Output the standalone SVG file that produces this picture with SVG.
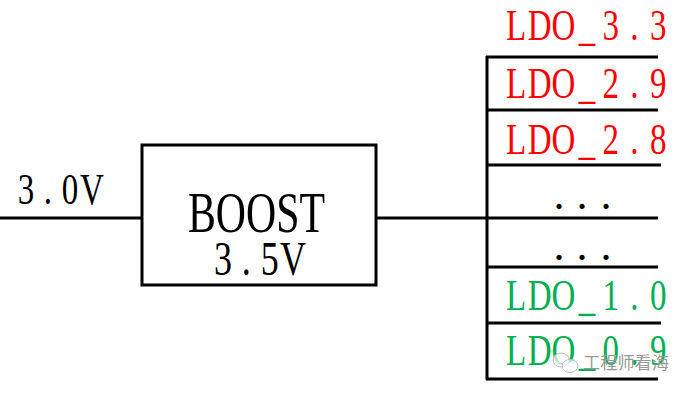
<svg xmlns="http://www.w3.org/2000/svg" width="692" height="393" viewBox="0 0 692 393">
<style>
.w{stroke:#000;stroke-width:3;fill:none}
.t{font-family:"Liberation Serif","Times New Roman",serif;text-anchor:middle}
.red{fill:#FF0000}
.grn{fill:#00B050}
.blk{fill:#000}
.wm{font-family:"Noto Sans CJK SC","Noto Sans",sans-serif;font-size:17px;fill:#9a9a9a}
</style>
<rect width="692" height="393" fill="#fff"/>
<g id="connectors">
<line class="w" x1="0" y1="218" x2="142" y2="218"/>
<line class="w" x1="376" y1="218" x2="487" y2="218"/>
<line class="w" x1="487" y1="56" x2="487" y2="380"/>
<line class="w" x1="486" y1="57" x2="658" y2="57"/>
<line class="w" x1="486" y1="110" x2="658" y2="110"/>
<line class="w" x1="486" y1="165" x2="661" y2="165"/>
<line class="w" x1="486" y1="218" x2="658" y2="218"/>
<line class="w" x1="486" y1="267" x2="658" y2="267"/>
<line class="w" x1="486" y1="323" x2="661" y2="323"/>
<line class="w" x1="486" y1="379" x2="658" y2="379"/>
</g>
<g id="input-label">
<text class="t blk" font-size="44" transform="translate(26,204) scale(0.75,1)" x="0 29.3 58.7 88" y="0">3.0V</text>
</g>
<g id="boost">
<rect class="w" x="142" y="145" width="234" height="140"/>
<text class="t blk" font-size="56" x="256.5" y="232" textLength="137" lengthAdjust="spacingAndGlyphs">BOOST</text>
<text class="t blk" font-size="48" transform="translate(223,275) scale(0.75,1)" x="0 31.1 62.2 93.3" y="0">3.5V</text>
</g>
<g id="ldo33"><text class="t red" font-size="44" transform="translate(516,40) scale(0.75,1)" x="0 31.6 63.2 94.8 126.4 158 189.6" y="0">LDO_3.3</text></g>
<g id="ldo29"><text class="t red" font-size="44" transform="translate(516,98) scale(0.75,1)" x="0 31.6 63.2 94.8 126.4 158 189.6" y="0">LDO_2.9</text></g>
<g id="ldo28"><text class="t red" font-size="44" transform="translate(516,154) scale(0.75,1)" x="0 31.6 63.2 94.8 126.4 158 189.6" y="0">LDO_2.8</text></g>
<g id="dots1"><text class="t blk" font-size="44" x="559 582 606" y="209">...</text></g>
<g id="dots2"><text class="t blk" font-size="44" x="559 582 606" y="260">...</text></g>
<g id="ldo10"><text class="t grn" font-size="44" transform="translate(516,310) scale(0.75,1)" x="0 31.6 63.2 94.8 126.4 158 189.6" y="0">LDO_1.0</text></g>
<g id="ldo09"><text class="t grn" font-size="44" transform="translate(516,365) scale(0.75,1)" x="0 31.6 63.2 94.8 126.4 158 189.6" y="0">LDO_0.9</text></g>
<g id="watermark">
<ellipse cx="561" cy="360" rx="8" ry="7" fill="#fff" fill-opacity="0.7" stroke="#bbb" stroke-width="1"/>
<ellipse cx="570" cy="366" rx="8" ry="6.5" fill="#fff" fill-opacity="0.7" stroke="#bbb" stroke-width="1"/>
<text class="wm" x="583" y="369" textLength="86" lengthAdjust="spacingAndGlyphs">工程师看海</text>
</g>
</svg>
